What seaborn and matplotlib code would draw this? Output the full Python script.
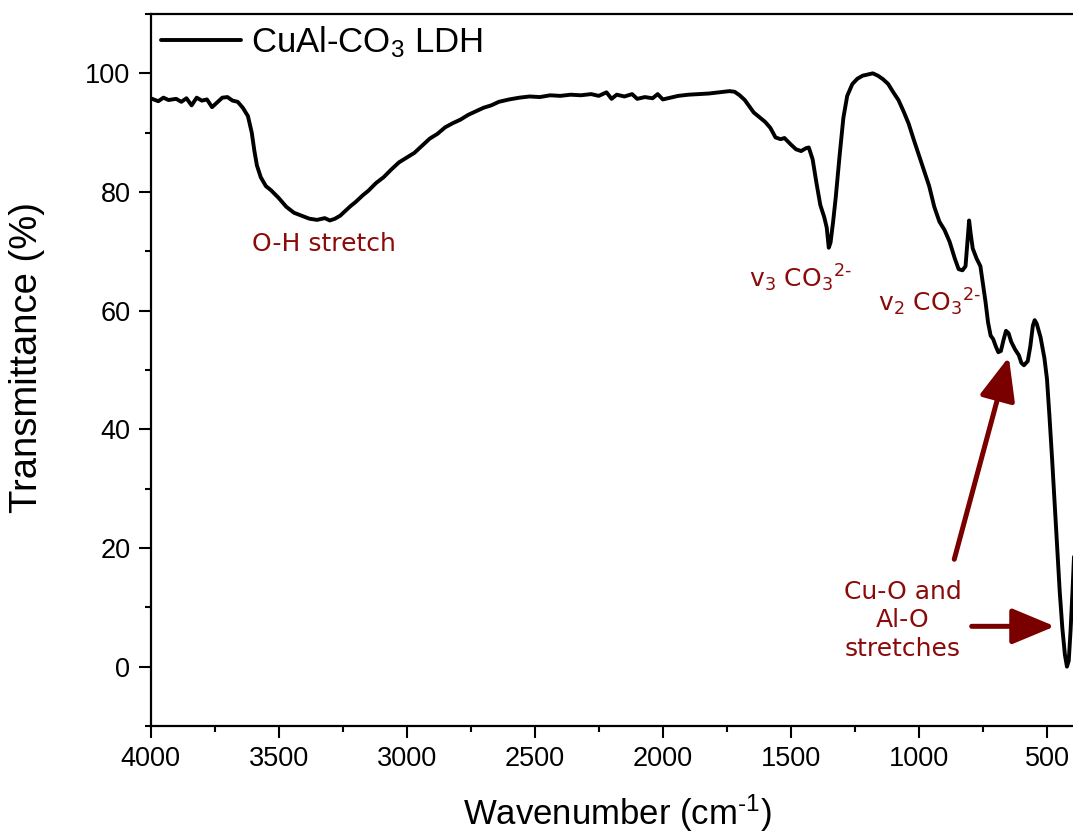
import numpy as np
import pandas as pd
import matplotlib
matplotlib.use("Agg")
import matplotlib.pyplot as plt
import seaborn as sns
from matplotlib.ticker import MultipleLocator

# ---- data ----
wavenumber = [
    4000, 3970, 3950, 3930, 3900, 3880, 3860, 3840, 3820, 3800, 3780, 3760, 3740, 3720,
    3700, 3680, 3660, 3640, 3620, 3605, 3595, 3585, 3570, 3550, 3530, 3500, 3470, 3440,
    3410, 3380, 3350, 3320, 3300, 3280, 3260, 3240, 3220, 3200, 3170, 3150, 3120, 3090,
    3060, 3030, 3000, 2970, 2940, 2910, 2880, 2850, 2820, 2790, 2760, 2730, 2700, 2670,
    2640, 2600, 2560, 2520, 2480, 2440, 2400, 2360, 2320, 2280, 2250, 2220, 2200, 2180,
    2150, 2120, 2100, 2070, 2040, 2020, 2000, 1970, 1940, 1900, 1860, 1820, 1780, 1740,
    1720, 1700, 1680, 1660, 1645, 1620, 1600, 1580, 1560, 1540, 1525, 1500, 1480, 1460,
    1440, 1430, 1415, 1400, 1385, 1370, 1360, 1352, 1345, 1335, 1325, 1310, 1295, 1280,
    1260, 1240, 1220, 1200, 1180, 1160, 1140, 1120, 1100, 1080, 1060, 1040, 1020, 1000,
    980, 960, 940, 920, 900, 880, 860, 845, 830, 818, 810, 804, 798, 790, 775, 760, 750,
    740, 730, 720, 710, 700, 690, 680, 670, 660, 650, 640, 625, 610, 600, 590, 575, 565,
    555, 548, 540, 525, 510, 500, 490, 480, 470, 460, 450, 440, 430, 422, 415, 408, 400,
    392,
]
transmittance = [
    95.8, 95.3, 95.9, 95.5, 95.7, 95.2, 95.8, 94.6, 95.9, 95.4, 95.6, 94.3, 95.1, 95.9,
    96.0, 95.4, 95.2, 94.2, 92.8, 90.0, 87.0, 84.5, 82.5, 81.0, 80.3, 79.0, 77.5, 76.5,
    76.0, 75.5, 75.3, 75.6, 75.2, 75.5, 76.0, 76.8, 77.6, 78.3, 79.5, 80.2, 81.5, 82.5,
    83.8, 85.0, 85.8, 86.6, 87.8, 89.0, 89.8, 90.9, 91.6, 92.2, 93.0, 93.6, 94.2, 94.6,
    95.2, 95.6, 95.9, 96.1, 96.0, 96.3, 96.2, 96.4, 96.3, 96.5, 96.2, 96.8, 95.7, 96.4,
    96.1, 96.5, 95.7, 96.0, 95.8, 96.5, 95.6, 95.9, 96.2, 96.4, 96.5, 96.6, 96.8, 97.0,
    96.9, 96.3, 95.5, 94.3, 93.4, 92.5, 91.8, 90.8, 89.2, 88.9, 89.1, 88.0, 87.2, 86.9,
    87.4, 87.5, 85.5, 81.5, 77.8, 75.8, 74.0, 70.6, 71.5, 75.0, 79.0, 86.0, 92.5, 96.2,
    98.2, 99.1, 99.6, 99.8, 100.0, 99.6, 99.0, 98.2, 96.8, 95.5, 93.6, 91.5, 88.8, 86.2,
    83.6, 81.0, 77.5, 75.0, 73.6, 71.6, 68.8, 67.0, 66.8, 67.5, 72.0, 75.2, 73.0, 70.5,
    68.8, 67.5, 64.5, 61.5, 58.0, 55.8, 55.2, 54.0, 53.0, 53.2, 55.0, 56.6, 56.2, 54.8,
    53.5, 52.5, 51.2, 50.8, 51.5, 54.0, 57.5, 58.4, 57.8, 55.5, 52.0, 48.5, 42.0, 35.0,
    27.5, 20.0, 12.5, 6.5, 2.0, 0.0, 1.0, 6.0, 13.0, 21.0,
]
series_label = "CuAl-CO$_3$ LDH"
x_ticks = [4000, 3500, 3000, 2500, 2000, 1500, 1000, 500]
y_ticks = [0, 20, 40, 60, 80, 100]

annotations = [
    ("O-H stretch", 3322, 71.3),
    ("v$_3$ CO$_3{}^{2\\text{-}}$", 1663, 63.9),
    ("v$_2$ CO$_3{}^{2\\text{-}}$", 1158, 59.8),
    ("Cu-O and\nAl-O\nstretches", 1064, 7.8),
]
arrows = [  # (tail_x, tail_y, head_x, head_y)
    (862, 18.1, 649, 52.2),
    (794, 6.8, 469, 6.8),
]

df = pd.DataFrame({"Wavenumber": wavenumber, "Transmittance": transmittance})

sns.set_theme(style="ticks")
plt.rcParams["font.family"] = ["Liberation Sans", "DejaVu Sans"]
plt.rcParams["mathtext.fontset"] = "custom"
plt.rcParams["mathtext.rm"] = "Liberation Sans"
plt.rcParams["mathtext.it"] = "Liberation Sans"
plt.rcParams["text.color"] = "black"
plt.rcParams["axes.labelcolor"] = "black"

fig = plt.figure(figsize=(10.73, 8.36), dpi=100)
ax = fig.add_axes([150.6 / 1073, 110 / 836, 1 - 150.6 / 1073 + 0.002, 712 / 836])

sns.lineplot(data=df, x="Wavenumber", y="Transmittance", ax=ax, color="black",
             linewidth=2.8, label=series_label, sort=False)

ax.set_xlim(4000, 390)
ax.set_ylim(-10, 110)
ax.set_xticks(x_ticks)
ax.set_yticks(y_ticks)
ax.xaxis.set_minor_locator(MultipleLocator(250))
ax.yaxis.set_minor_locator(MultipleLocator(10))
ax.tick_params(which="major", direction="out", length=8.5, width=1.5, labelsize=19.5,
               pad=6, colors="black", labelcolor="black")
ax.tick_params(which="minor", direction="out", length=4.5, width=1.5, colors="black")
ax.tick_params(top=False, right=False, which="both")
for s in ["left", "bottom", "top"]:
    ax.spines[s].set_linewidth(1.6)
    ax.spines[s].set_color("black")
ax.spines["right"].set_visible(False)

ax.set_xlabel("Wavenumber (cm$^{\\text{-}1}$)", fontsize=25, color="black")
ax.set_ylabel("Transmittance (%)", fontsize=27.5, color="black")
ax.xaxis.set_label_coords(0.505, -0.093)
ax.yaxis.set_label_coords(-0.114, 0.518)

dark_red = "#8B0A0A"
ann_font = ["DejaVu Sans"]
for txt, x, y in annotations:
    if "\n" in txt:
        ax.text(x, y, txt, color=dark_red, fontsize=18, ha="center", va="center",
                family=ann_font, linespacing=1.25)
    elif txt.startswith("O-H"):
        ax.text(x, y, txt, color=dark_red, fontsize=18, ha="center", va="center",
                family=ann_font)
    else:
        ax.text(x, y, txt, color=dark_red, fontsize=18, ha="left", va="baseline",
                family=ann_font, math_fontfamily="dejavusans")

for tx, ty, hx, hy in arrows:
    ax.annotate("", xy=(hx, hy), xytext=(tx, ty),
                arrowprops=dict(arrowstyle="-|>,head_length=1.2,head_width=0.5",
                                color="#7A0000", lw=3.6, mutation_scale=22,
                                shrinkA=0, shrinkB=0))

leg = ax.legend(loc="upper left", frameon=False, fontsize=25, handlelength=2.3,
                handletextpad=0.3, borderaxespad=0.2, borderpad=0.1)
for line in leg.get_lines():
    line.set_linewidth(2.8)
for t in leg.get_texts():
    t.set_color("black")

fig.savefig("out.png", dpi=100)
